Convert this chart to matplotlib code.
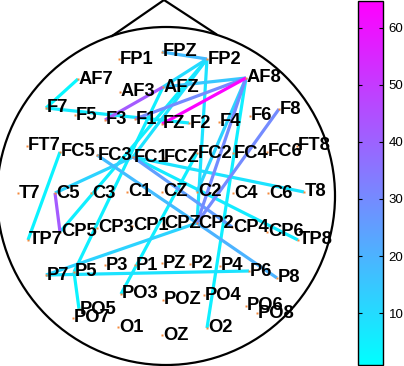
import matplotlib
matplotlib.use("Agg")
import matplotlib.pyplot as plt
from matplotlib.patches import Circle
from matplotlib.colors import Normalize
import matplotlib.cm as cm

# electrode names and positions (pixel-like layout coords)
names = ["FP1","FPZ","FP2","AF7","AF3","AFZ","AF8",
         "F7","F5","F3","F1","FZ","F2","F4","F6","F8",
         "FT7","FC5","FC3","FC1","FCZ","FC2","FC4","FC6","FT8",
         "T7","C5","C3","C1","CZ","C2","C4","C6","T8",
         "TP7","CP5","CP3","CP1","CPZ","CP2","CP4","CP6","TP8",
         "P7","P5","P3","P1","PZ","P2","P4","P6","P8",
         "PO7","PO5","PO3","POZ","PO4","PO6","PO8",
         "O1","OZ","O2"]
xs = [119,162,207,78,120,163,246,
      46,75,105,135,162,189,219,250,279,
      27,60,97,133,163,197,233,267,297,
      18,55,91,127,162,197,233,268,304,
      28,60,97,132,163,197,232,267,298,
      46,74,105,135,162,190,220,249,277,
      73,79,121,163,204,246,257,
      118,162,207]
ys = [59,52,59,79,92,87,78,
      108,115,120,119,124,123,122,116,109,
      146,152,155,157,158,153,153,152,146,
      193,193,193,192,192,192,193,193,192,
      240,232,228,226,224,223,227,232,240,
      275,272,265,265,263,264,266,271,278,
      318,309,294,300,295,306,313,
      327,335,328]

# connections: (from, to, value)
src = ["FPZ","AF7","F7","AFZ","FZ","F1","AFZ","FP2","FP2","FP2","FP2",
       "AF8","F8","AF8","FC5","C5","C5","FC3","FC1","FC1","FC1",
       "P7","P7","P5","PO3","CP2","AF8","P5"]
dst = ["FP2","F7","F2","F3","AF8","AF8","AF8","AFZ","FC1","CP5","CP2",
       "CP2","CP2","C2","TP7","CP5","FC1","CP2","CP4","T8","TP8",
       "CP2","P6","PO5","FC2","P8","O2","AFZ"]
vals = [18,3,6,42,64,30,15,10,8,5,8,
        30,30,12,4,42,12,18,25,8,6,
        12,8,4,5,20,5,5]

vmin, vmax = 0.9, 64.7
cbar_ticks = [10, 20, 30, 40, 50, 60]

W, H = 404, 366
fig = plt.figure(figsize=(W/100, H/100), dpi=100)
ax = fig.add_axes([0, 0, 350/W, 1])
ax.set_xlim(0, 350)
ax.set_ylim(366, 0)
ax.axis("off")

cmap = plt.get_cmap("cool")
norm = Normalize(vmin=vmin, vmax=vmax)
pos = dict(zip(names, zip(xs, ys)))

order = sorted(range(len(vals)), key=lambda i: vals[i])
for i in order:
    x0, y0 = pos[src[i]]
    x1, y1 = pos[dst[i]]
    ax.plot([x0, x1], [y0, y1], color=cmap(norm(vals[i])), lw=2.3,
            solid_capstyle="butt", zorder=2)

# head
ax.add_patch(Circle((166, 196), 169, fill=False, lw=1.6, ec="black", zorder=1))
ax.plot([112, 164, 216], [36, 0, 34], color="black", lw=1.6, zorder=1,
        solid_joinstyle="miter")

for n in names:
    x, y = pos[n]
    ax.plot(x, y, "s", ms=1.6, color="#f58a3c", mec="none", zorder=3)
    ax.text(x + 1, y, n, ha="left", va="center", fontsize=13.2,
            fontweight="bold", family="Liberation Sans", color="black",
            zorder=4)

# colorbar
cax = fig.add_axes([358/W, 1/H, 25/W, 364/H])
sm = cm.ScalarMappable(norm=norm, cmap=cmap)
cb = fig.colorbar(sm, cax=cax, ticks=cbar_ticks)
cb.outline.set_linewidth(1.0)
cax.tick_params(which="both", direction="in", length=3, width=0.8,
                left=True, right=True, labelsize=9.5, pad=4)
for t in cax.get_yticklabels():
    t.set_family("Liberation Sans")
cb.minorticks_off()

fig.savefig("out.png", dpi=100)
